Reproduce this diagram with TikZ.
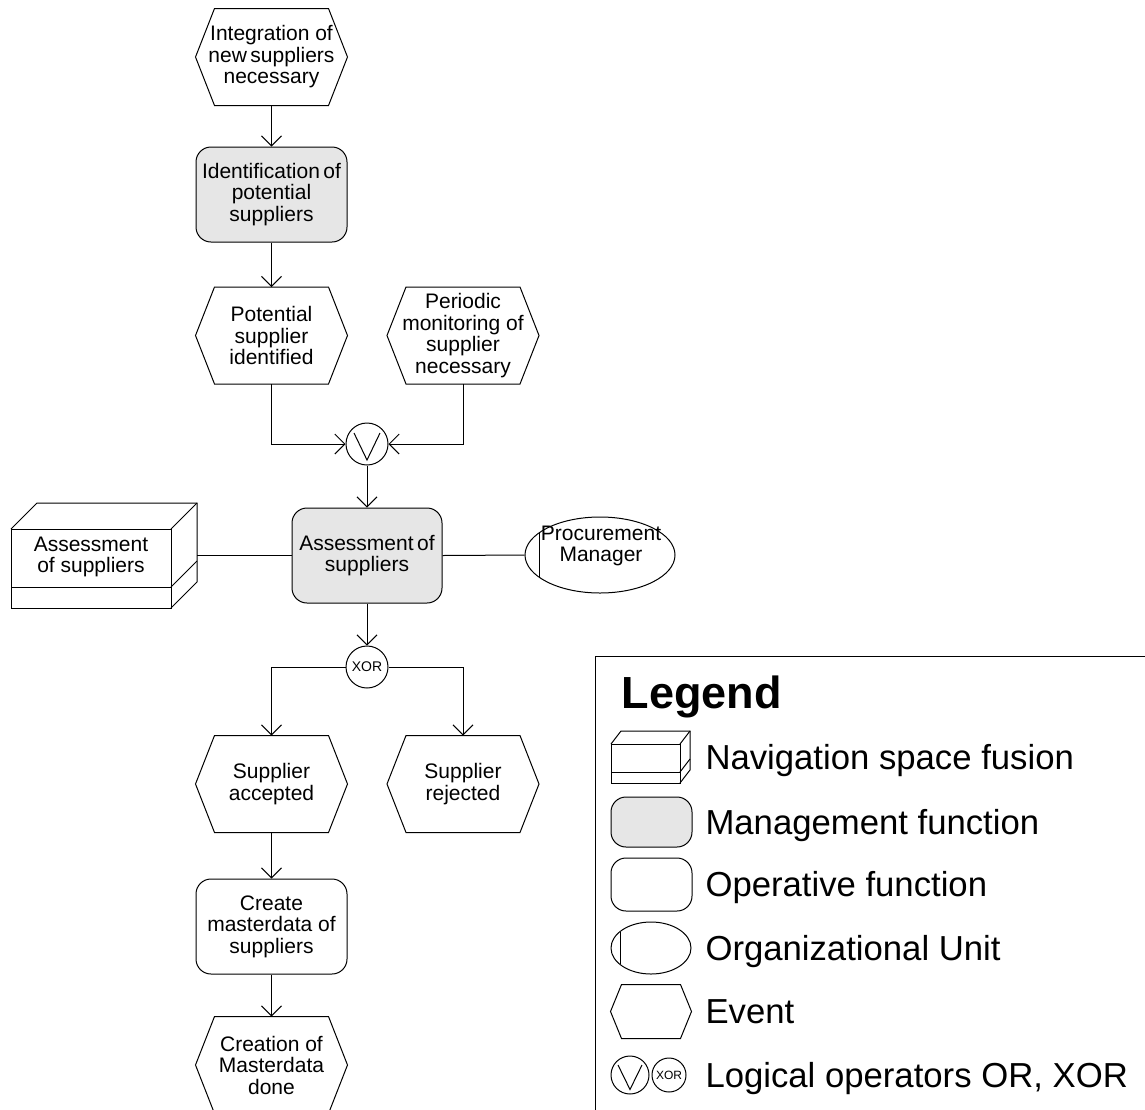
\documentclass[tikz,border=0pt]{standalone}
\usepackage{fontspec}
\setmainfont{Liberation Sans}
\usetikzlibrary{arrows.meta,shapes.geometric,calc}
\definecolor{mgmtgray}{RGB}{230,230,230}

% hexagonal outline around a (borderless) rectangular node: #1 node, #2 slant
\newcommand\eventoutline[2]{%
  \draw ($(#1.north west)+(#2,0)$) -- ($(#1.north east)+(-#2,0)$) -- (#1.east)
     -- ($(#1.south east)+(-#2,0)$) -- ($(#1.south west)+(#2,0)$) -- (#1.west) -- cycle;}
% "V" sign of an OR connector: #1 node, #2 half width, #3 top offset, #4 bottom offset
\newcommand\orsign[4]{%
  \draw ($(#1.center)+(-#2,-#3)$) -- ($(#1.center)+(0,#4)$) -- ($(#1.center)+(#2,-#3)$);}

\begin{document}
\begin{tikzpicture}[x=1pt,y=-1pt,line width=1pt,
  lbl/.style={align=center,inner sep=0pt,font=\fontsize{21}{21.5}\selectfont},
  event/.style={lbl,minimum width=151pt,minimum height=96pt},
  func/.style={lbl,draw,rounded corners=15pt,minimum width=151pt,minimum height=95pt},
  mgmt/.style={func,fill=mgmtgray},
  oper/.style={func,fill=white},
  gate/.style={circle,draw,minimum size=42pt,inner sep=0pt},
  arr/.style={-{Straight Barb[length=10pt,width=20pt]}},
  legtext/.style={anchor=base west,inner sep=0pt,font=\fontsize{34.7}{40}\selectfont},
]
\useasboundingbox (0,0) rectangle (1145,1109);

% ---------- process chain ----------
\node[event] (ev1) at (271.5,57) {Integration of\\new\,suppliers\\necessary};
\eventoutline{ev1}{19}
\node[mgmt] (f1) at (271.5,194.5) {Identification\,of\\potential\\suppliers};
\node[event] (ev2) at (271.5,335.5) {Potential\\supplier\\identified};
\eventoutline{ev2}{19}
\node[event] (ev3) at (463,335.5) {Periodic\\monitoring of\\supplier\\necessary};
\eventoutline{ev3}{19}
\node[gate] (or1) at (367,444) {};
\orsign{or1}{13}{11}{16}
\node[mgmt,minimum width=150pt] (f2) at (367,555.5) {Assessment\,of\\suppliers};
\node[gate,font=\fontsize{14}{14}\selectfont] (xor1) at (367,667) {XOR};
\node[event] (ev4) at (271.5,784) {Supplier\\accepted};
\eventoutline{ev4}{19}
\node[event] (ev5) at (463,784) {Supplier\\rejected};
\eventoutline{ev5}{19}
\node[oper] (f3) at (271.5,926.5) {Create\\masterdata of\\suppliers};
\node[event] (ev6) at (271.5,1065) {Creation of\\Masterdata\\done};
\eventoutline{ev6}{19}

% navigation space box
\draw (11,529) rectangle (171,608);
\draw (11,587) -- (171,587);
\draw (11,529) -- (37,503) -- (197,503) -- (197,582) -- (171,608);
\draw (171,529) -- (197,503);
\draw (171,587) -- (197,561);
\node[lbl] (nav) at (91,557) {Assessment\\of suppliers};
\coordinate (navR) at (197,555.5);

% organizational unit
\node[ellipse,draw,minimum width=150pt,minimum height=76pt,inner sep=0pt] (org) at (600,555) {};
\draw ($(org.center)+(-61,-22)$) -- ($(org.center)+(-61,22)$);
\node[lbl] (orgtxt) at (601,546) {Procurement\\Manager};

% connectors
\draw[arr] (ev1.south) -- (f1.north);
\draw[arr] (f1.south) -- (ev2.north);
\draw[arr] (ev2.south) |- (or1.west);
\draw[arr] (ev3.south) |- (or1.east);
\draw[arr] (or1.south) -- (f2.north);
\draw[arr] (f2.south) -- (xor1.north);
\draw[arr] (xor1.west) -| (ev4.north);
\draw[arr] (xor1.east) -| (ev5.north);
\draw[arr] (ev4.south) -- (f3.north);
\draw[arr] (f3.south) -- (ev6.north);
\draw (navR) -- (f2.west);
\draw (f2.east) -- (org.west);

% ---------- legend ----------
\draw (595,1120) -- (595,656) -- (1150,656);
\node[anchor=base west,inner sep=0pt,font=\bfseries\fontsize{45}{50}\selectfont] (legtitle) at (621,708) {Legend};

\draw (611,744) rectangle (680,783);
\draw (611,772) -- (680,772);
\draw (611,744) -- (621,731) -- (690,731) -- (690,770) -- (680,783);
\draw (680,744) -- (690,731);
\draw (680,772) -- (690,759);
\node[legtext] (t1) at (705,769) {Navigation space fusion};

\node[draw,fill=mgmtgray,rounded corners=15pt,minimum width=81pt,minimum height=50pt,inner sep=0pt] (legmgmt) at (651.5,822) {};
\node[legtext] (t2) at (705,834) {Management function};

\node[draw,rounded corners=15pt,minimum width=81pt,minimum height=53pt,inner sep=0pt] (legoper) at (651.5,884.5) {};
\node[legtext] (t3) at (705,896.5) {Operative function};

\node[ellipse,draw,minimum width=80pt,minimum height=52pt,inner sep=0pt] (legorg) at (651,948) {};
\draw ($(legorg.center)+(-31,-16.4)$) -- ($(legorg.center)+(-31,16.4)$);
\node[legtext] (t4) at (705,960) {Organizational Unit};

\node[minimum width=80pt,minimum height=53pt,inner sep=0pt] (legev) at (651,1011.5) {};
\eventoutline{legev}{11}
\node[legtext] (t5) at (705,1023.5) {Event};

\node[gate,minimum size=38pt] (legor) at (630,1075) {};
\orsign{legor}{12}{10}{14.5}
\node[gate,minimum size=34pt,font=\fontsize{12}{12}\selectfont] (legxor) at (669,1075) {XOR};
\node[legtext] (t6) at (705,1087) {Logical operators OR, XOR};
\end{tikzpicture}
\end{document}
